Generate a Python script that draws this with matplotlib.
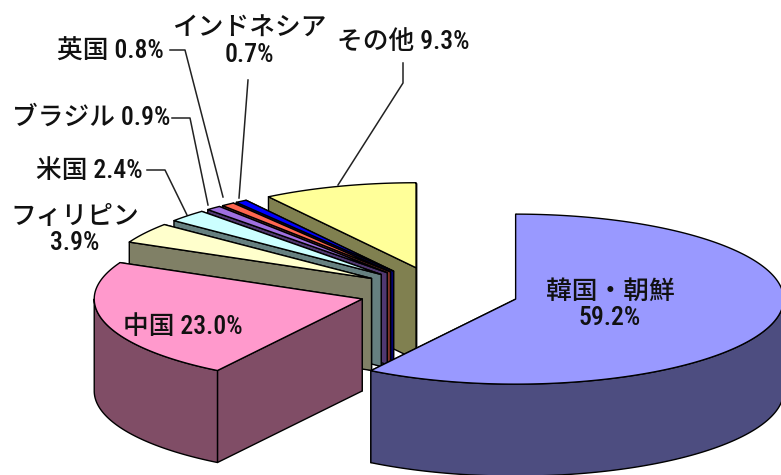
import numpy as np
import matplotlib
matplotlib.use('Agg')
import matplotlib.pyplot as plt
from matplotlib.patches import Polygon

# shares in percent, clockwise from 12 o'clock
countries = ['韓国・朝鮮', '中国', 'フィリピン', '米国', 'ブラジル', '英国', 'インドネシア', 'その他']
shares = [59.2, 23.0, 3.9, 2.4, 0.9, 0.8, 0.7, 9.3]
top_colors = ['#9999FF', '#FF99CC', '#FFFFCC', '#CCFFFF', '#A070E0', '#FF6650', '#0000FF', '#FFFF99']
wall_colors = ['#4D4D80', '#804D66', '#808066', '#668080', '#503870', '#803328', '#000080', '#808050']

FONT = ['Roboto Condensed', 'Sofia Sans Condensed', 'Noto Sans CJK JP', 'DejaVu Sans']

# pie geometry in pixels
CX, CY = 439, 292
RX, RY = 268, 85
EXPLODE = 0.298
DEPTH = 92

fig = plt.figure(figsize=(7.81, 4.75), dpi=100)
ax = fig.add_axes([0, 0, 1, 1])
ax.set_xlim(0, 781)
ax.set_ylim(475, 0)
ax.axis('off')


def rim(cx, cy, angles):
    return np.column_stack([cx + RX * np.sin(angles), cy - RY * np.cos(angles)])


def face(points, color, z):
    ax.add_patch(Polygon(points, closed=True, facecolor=color, edgecolor='black',
                         linewidth=1.0, joinstyle='round', zorder=z))


edges = np.radians(np.cumsum([0] + shares) / sum(shares) * 360)
down = np.array([0, DEPTH])

# painter's order: last slice sits furthest back, first slice is in front
for i in range(len(shares) - 1, -1, -1):
    a0, a1 = edges[i], edges[i + 1]
    mid = (a0 + a1) / 2
    cx = CX + EXPLODE * RX * np.sin(mid)
    cy = CY - EXPLODE * RY * np.cos(mid)
    apex = np.array([cx, cy])
    angles = np.linspace(a0, a1, 200)
    arc = rim(cx, cy, angles)
    z = 10 * (len(shares) - i)

    # the two cut faces, the far one first
    for p in (arc[-1], arc[0]):
        face([apex, p, p + down, apex + down], wall_colors[i], z)

    # outer wall, only the part facing the viewer
    front = np.cos(angles) < 0
    if front.any():
        part = arc[front]
        face(np.vstack([part, part[::-1] + down]), wall_colors[i], z + 1)

    face(np.vstack([apex, arc]), top_colors[i], z + 2)

# leader lines
leaders = [
    [(403, 63), (403, 83), (338, 185)],
    [(248, 80), (239, 198)],
    [(170, 50), (185, 50), (223, 197)],
    [(172, 118), (190, 118), (208, 205)],
    [(147, 170), (165, 170), (187, 215)],
]
for pts in leaders:
    xs, ys = zip(*pts)
    ax.plot(xs, ys, color='#222222', linewidth=1.1, zorder=5)

# labels
label_spots = [
    (610, 305, '韓国・朝鮮\n59.2%'),
    (183, 327, '中国 23.0%'),
    (75, 230, 'フィリピン\n3.9%'),
    (89, 171, '米国 2.4%'),
    (91, 118, 'ブラジル 0.9%'),
    (110, 52, '英国 0.8%'),
    (249, 42, 'インドネシア\n0.7%'),
    (403, 42, 'その他 9.3%'),
]
for x, y, s in label_spots:
    ax.text(x, y, s, ha='center', va='center', family=FONT, fontsize=18.5,
            fontweight='medium', color='#111111', linespacing=1.15, zorder=200)

fig.savefig('out.png', dpi=100)
